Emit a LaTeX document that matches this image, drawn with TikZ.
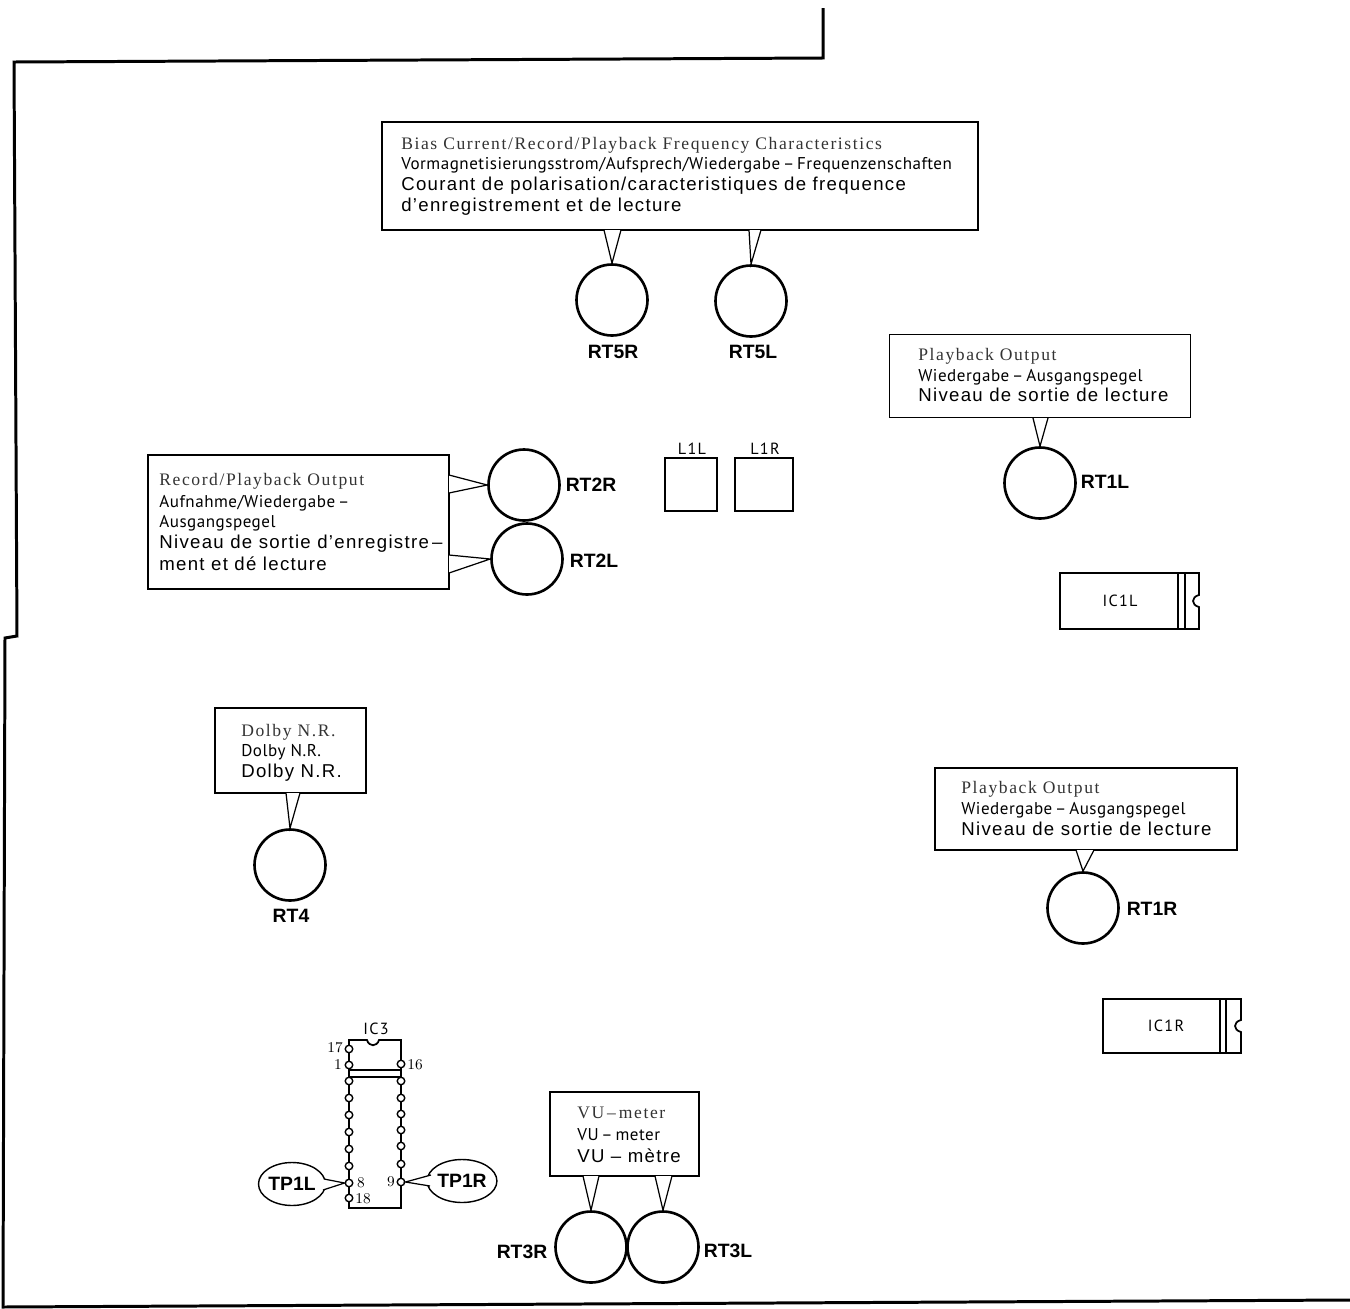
\documentclass[tikz,border=0pt]{standalone}
\usepackage{fontspec}
\usetikzlibrary{shapes.geometric}
\newfontfamily\serifline[LetterSpace=9]{Liberation Serif}
\newfontfamily\condline[LetterSpace=3]{PT Sans}
\newfontfamily\wideline[LetterSpace=7]{Liberation Sans}
\newfontfamily\tagline{Liberation Sans}
\newfontfamily\partline[LetterSpace=8]{PT Sans}
\tikzset{
  panel/.style={draw,line width=0.7pt,inner sep=0pt},
  trimmer/.style={circle,draw,line width=1.5pt,fill=white,minimum size=1.42cm,inner sep=0pt},
  lineone/.style={anchor=base west,inner sep=0pt,font=\serifline\fontsize{10}{12}\selectfont,text=black!80},
  linetwo/.style={anchor=base west,inner sep=0pt,font=\condline\fontsize{9.7}{12}\selectfont},
  linethree/.style={anchor=base west,inner sep=0pt,font=\wideline\fontsize{10.6}{12}\selectfont},
  tag/.style={inner sep=0pt,font=\tagline\bfseries\fontsize{11}{13}\selectfont},
  part/.style={inner sep=0pt,font=\partline\fontsize{9.2}{10}\selectfont},
  pinno/.style={inner sep=0pt,font=\rmfamily\fontsize{8.5}{10}\selectfont},
  pinhole/.style={circle,draw,line width=0.8pt,fill=white,minimum size=0.15cm,inner sep=0pt},
  tip/.style={line width=0.7pt,fill=white},
  tpoval/.style={ellipse,draw,line width=0.8pt,fill=white,minimum width=1.34cm,minimum height=0.86cm,inner sep=0pt,font=\tagline\bfseries\fontsize{11}{13}\selectfont},
}
\begin{document}
\begin{tikzpicture}[x=0.02cm,y=-0.02cm]
  \useasboundingbox (0,0) rectangle (1350,1309);
  % board edge
  \draw[line width=1.7pt] (823,8) -- (823,58) -- (14,62) -- (17,636) -- (5,638) -- (3,1307) -- (1350,1300);

  % top box
  \node[panel,minimum width=11.92cm,minimum height=2.16cm] (biasbox) at (680,176) {};
  \node[trimmer] (RT5Rc) at (612,300) {};
  \node[trimmer] (RT5Lc) at (751,301) {};
  \coordinate (b1) at (604,230); \coordinate (b2) at (621,230);
  \coordinate (b3) at (749,230); \coordinate (b4) at (761,230);
  \draw[tip] (b1) -- (RT5Rc.north) -- (b2);
  \draw[tip] (b3) -- (RT5Lc.north) -- (b4);
  \node[lineone] (bias1) at (401,149) {Bias Current/Record/Playback Frequency Characteristics};
  \node[linetwo] (bias2) at (401,169) {Vormagnetisierungsstrom/Aufsprech/Wiedergabe\,–\,Frequenzenschaften};
  \node[linethree] (bias3) at (401,190) {Courant de polarisation/caracteristiques de frequence};
  \node[linethree] (bias4) at (401,211) {d’enregistrement et de lecture};
  \node[tag] (RT5R) at (613,352) {RT5R};
  \node[tag] (RT5L) at (753,352) {RT5L};

  % RT1L
  \node[panel,minimum width=6.02cm,minimum height=1.66cm] (outlbox) at (1040,376) {};
  \node[trimmer] (RT1Lc) at (1040,483) {};
  \coordinate (c1) at (1033,418); \coordinate (c2) at (1048,418);
  \draw[tip] (c1) -- (RT1Lc.north) -- (c2);
  \node[lineone] (outl1) at (918,360) {Playback Output};
  \node[linetwo] (outl2) at (918,381) {Wiedergabe\,–\,Ausgangspegel};
  \node[linethree] (outl3) at (918,401) {Niveau de sortie de lecture};
  \node[tag] (RT1L) at (1105,482) {RT1L};

  % RT1R
  \node[panel,minimum width=6.04cm,minimum height=1.64cm] (outrbox) at (1086,809) {};
  \node[trimmer] (RT1Rc) at (1083,908) {};
  \coordinate (d1) at (1076,850); \coordinate (d2) at (1094,850);
  \draw[tip] (d1) -- (RT1Rc.north) -- (d2);
  \node[lineone] (outr1) at (961,793) {Playback Output};
  \node[linetwo] (outr2) at (961,814) {Wiedergabe\,–\,Ausgangspegel};
  \node[linethree] (outr3) at (961,835) {Niveau de sortie de lecture};
  \node[tag] (RT1R) at (1152,909) {RT1R};

  % RT2
  \node[panel,minimum width=6.02cm,minimum height=2.68cm] (recbox) at (298.5,522) {};
  \node[trimmer] (RT2Rc) at (524,485) {};
  \node[trimmer] (RT2Lc) at (527,559) {};
  \coordinate (e1) at (449,475); \coordinate (e2) at (449,493);
  \coordinate (e3) at (449,555); \coordinate (e4) at (449,573);
  \draw[tip] (e1) -- (RT2Rc.west) -- (e2);
  \draw[tip] (e3) -- (RT2Lc.west) -- (e4);
  \node[lineone] (rec1) at (159,485) {Record/Playback Output};
  \node[linetwo] (rec2) at (159,507) {Aufnahme/Wiedergabe\,–};
  \node[linetwo] (rec3) at (159,527) {Ausgangspegel};
  \node[linethree] (rec4) at (159,548) {Niveau de sortie d’enregistre\,–};
  \node[linethree] (rec5) at (159,570) {ment et dé lecture};
  \node[tag] (RT2R) at (591,485) {RT2R};
  \node[tag] (RT2L) at (594,561) {RT2L};

  % coils
  \node[panel,line width=1pt,minimum width=1.04cm,minimum height=1.06cm] (L1Lc) at (691,484.5) {};
  \node[panel,line width=1pt,minimum width=1.16cm,minimum height=1.06cm] (L1Rc) at (764,484.5) {};
  \node[part] (L1L) at (692,449) {L1L};
  \node[part] (L1R) at (765,449) {L1R};

  % IC1L and IC1R
  \draw[line width=1pt] (1060,573) -- (1199,573) -- (1199,595) .. controls (1191,597) and (1191,605) .. (1199,607) -- (1199,629) -- (1060,629) -- cycle;
  \draw[line width=1pt] (1178,573) -- (1178,629) (1185,573) -- (1185,629);
  \node[part] (IC1L) at (1120,601) {IC1L};
  \draw[line width=1pt] (1103,999) -- (1241,999) -- (1241,1020) .. controls (1233,1022) and (1233,1030) .. (1241,1032) -- (1241,1053) -- (1103,1053) -- cycle;
  \draw[line width=1pt] (1220,999) -- (1220,1053) (1226,999) -- (1226,1053);
  \node[part] (IC1R) at (1166,1026) {IC1R};

  % Dolby
  \node[panel,minimum width=3.02cm,minimum height=1.7cm] (dolbybox) at (290.5,750.5) {};
  \node[trimmer] (RT4c) at (290,865) {};
  \coordinate (f1) at (286,793); \coordinate (f2) at (300,793);
  \draw[tip] (f1) -- (RT4c.north) -- (f2);
  \node[lineone] (dolby1) at (241,736) {Dolby N.R.};
  \node[linetwo] (dolby2) at (241,756) {Dolby N.R.};
  \node[linethree] (dolby3) at (241,777) {Dolby N.R.};
  \node[tag] (RT4) at (291,916) {RT4};

  % VU
  \node[panel,minimum width=2.98cm,minimum height=1.68cm] (vubox) at (624.5,1134) {};
  \node[trimmer] (RT3Rc) at (591,1247) {};
  \node[trimmer] (RT3Lc) at (663,1247) {};
  \coordinate (g1) at (583,1176); \coordinate (g2) at (599,1176);
  \coordinate (g3) at (655,1176); \coordinate (g4) at (672,1176);
  \draw[tip] (g1) -- (RT3Rc.north) -- (g2);
  \draw[tip] (g3) -- (RT3Lc.north) -- (g4);
  \node[lineone] (vu1) at (577,1118) {VU\,–\,meter};
  \node[linetwo] (vu2) at (577,1140) {VU\,–\,meter};
  \node[linethree] (vu3) at (577,1162) {VU – mètre};
  \node[tag] (RT3R) at (522,1252) {RT3R};
  \node[tag] (RT3L) at (728,1251) {RT3L};

  % IC3
  \draw[line width=1pt] (349,1040) -- (367,1040) .. controls (369,1047) and (377,1047) .. (379,1040) -- (401,1040) -- (401,1208) -- (349,1208) -- cycle;
  \draw[line width=1pt] (349,1070) -- (401,1070) (349,1077) -- (401,1077);
  \foreach \y [count=\i] in {1049,1065,1081,1098,1115,1132,1149,1166,1183,1198}
    \node[pinhole] (pl\i) at (349,\y) {};
  \foreach \y [count=\i] in {1064,1081,1098,1114,1130,1146,1164,1182}
    \node[pinhole] (pr\i) at (401,\y) {};
  \node[part] (IC3) at (376,1029) {IC3};
  \node[pinno] (n17) at (335,1048) {17};
  \node[pinno] (n1) at (338,1065) {1};
  \node[pinno] (n16) at (415,1065) {16};
  \node[pinno] (n8) at (361,1183) {8};
  \node[pinno] (n18) at (363,1199) {18};
  \node[pinno] (n9) at (391,1182) {9};
  \node[tpoval] (TP1L) at (292,1184) {TP1L};
  \node[tpoval] (TP1R) at (462,1181) {TP1R};
  \coordinate (h1) at (324,1179); \coordinate (h2) at (323,1190);
  \coordinate (h3) at (431,1175); \coordinate (h4) at (430,1186);
  \draw[tip] (h1) -- (pl9.west) -- (h2);
  \draw[tip] (h3) -- (pr8.east) -- (h4);
\end{tikzpicture}
\end{document}
